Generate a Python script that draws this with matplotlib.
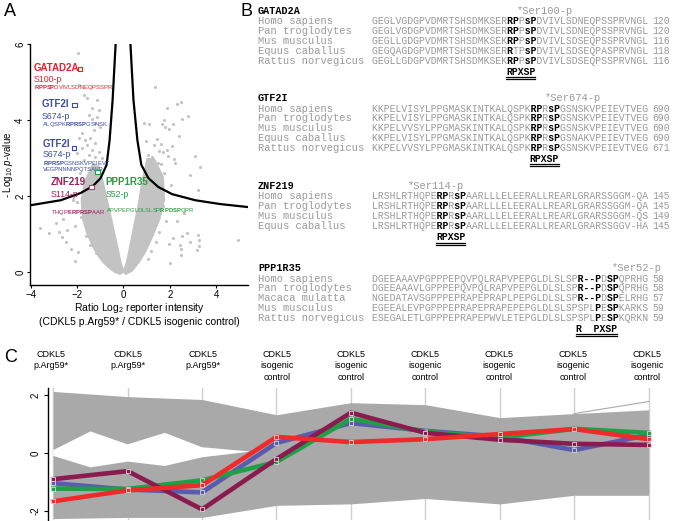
import matplotlib.pyplot as plt
from matplotlib.lines import Line2D
import numpy as np

W, H = 676, 521
plt.rcParams['font.family'] = ['Liberation Sans', 'DejaVu Sans']
plt.rcParams['mathtext.fontset'] = 'custom'
plt.rcParams['mathtext.rm'] = 'Liberation Sans'
plt.rcParams['mathtext.it'] = 'Liberation Sans:italic'
plt.rcParams['mathtext.bf'] = 'Liberation Sans:bold'

# ---------------- panel A data (volcano) ----------------
# highlighted hits
hit_x = [-1.89, -2.11, -2.15, -1.38, -1.12]
hit_y = [5.34, 4.39, 3.26, 2.24, 2.63]
hit_col = ['#e8202a', '#3b4ba8', '#3b4ba8', '#c8306a', '#2a9a40']

# sparse points
pts_x = [-1.97, -1.94, -1.72, -1.58, -1.15, -1.36, -1.08, -1.5, -1.15, -1.36, -1.22, -1.0,
         -1.29, -1.79, -1.94, -1.65, -1.43, -1.22, -1.58, -1.79, -1.36, -1.08, -2.01, -1.5,
         -1.22, -0.93, -1.72,
         -3.6, -3.23, -2.8, -2.65, -2.44, -2.28, -1.97, -2.5, -2.9, -2.6, -2.35, -2.1,
         -2.0, -1.85, -2.1, -1.6, -1.45, -1.2, -0.9, -1.75, -2.2, -1.9,
         1.36, 1.9, 2.32, 2.48, 2.51, 2.8, 0.89, 1.12, 1.76, 1.65, 1.79, 1.96, 2.16, 2.42,
         0.96, 1.43, 1.32, 1.62, 2.08, 1.89, 1.53, 1.69, 3.08, 1.05, 1.22, 1.91, 2.19, 1.51,
         2.22,
         3.28, 4.96, 2.74, 2.45, 3.17, 1.95, 3.23, 3.27, 2.51, 2.47, 2.48, 2.0, 2.15, 2.87,
         3.2, 2.87, 3.3, 2.3, 2.6,
         1.7, 1.85, 1.55, 1.4, 1.2, 1.05, 2.05, 1.75, 1.6]
pts_y = [5.76, 4.92, 4.66, 4.57, 4.53, 4.31, 4.26, 4.13, 4.09, 4.02, 3.91, 3.82,
         3.75, 3.65, 3.52, 3.47, 3.52, 3.39, 3.34, 3.26, 3.21, 3.17, 3.12, 3.08,
         3.03, 2.99, 2.95,
         1.15, 1.02, 1.06, 0.93, 1.1, 0.62, 0.53, 0.8, 1.3, 1.4, 1.6, 0.3,
         1.85, 1.45, 1.2, 0.95, 0.7, 0.5, 0.3, 2.1, 1.9, 2.6,
         4.86, 4.32, 4.41, 4.47, 4.02, 4.10, 3.93, 3.89, 3.99, 3.89, 3.82, 3.76, 3.89, 3.59,
         3.46, 3.51, 3.35, 3.37, 3.32, 3.21, 3.19, 3.16, 3.06, 3.08, 3.02, 3.06, 2.97, 2.86,
         2.86,
         0.84, 0.84, 1.02, 0.71, 0.58, 0.75, 0.97, 0.68, 0.96, 0.62, 0.45, 0.23, 0.89, 0.8,
         2.16, 2.55, 2.77, 1.35, 1.55,
         1.75, 1.35, 1.05, 0.8, 0.55, 0.35, 2.3, 2.6, 2.85]

# outline of the dense cloud (left and right wings)
left_cloud_x = [0.05, -0.08, -0.2, -0.35, -0.45, -0.6, -0.75, -0.9, -1.05,
                -1.35, -1.7, -1.85, -1.8, -1.6, -1.35, -1.05, -0.75, -0.45, -0.15]
left_cloud_y = [0.0, 0.25, 0.6, 1.0, 1.3, 1.7, 2.1, 2.5, 2.8,
                2.85, 2.4, 1.9, 1.4, 1.0, 0.65, 0.35, 0.15, 0.0, -0.08]
right_cloud_x = [-0.05, 0.1, 0.22, 0.35, 0.48, 0.62, 0.72, 0.85, 1.0,
                 1.35, 1.75, 1.8, 1.6, 1.3, 1.0, 0.7, 0.4, 0.1]
right_cloud_y = [0.0, 0.25, 0.6, 1.0, 1.4, 1.8, 2.2, 2.6, 3.0,
                 3.0, 2.5, 1.9, 1.4, 0.95, 0.55, 0.25, 0.02, -0.08]

# significance threshold curves
thr_left_x = [-0.34, -0.47, -0.6, -0.73, -0.99, -1.33, -1.85, -2.71, -4.0]
thr_left_y = [6.0, 4.53, 3.47, 2.82, 2.47, 2.26, 2.08, 1.89, 1.76]
thr_right_x = [0.3, 0.43, 0.6, 0.77, 1.08, 1.5, 2.1, 3.1, 4.17, 5.38]
thr_right_y = [6.0, 4.53, 3.47, 2.82, 2.47, 2.24, 2.05, 1.89, 1.79, 1.71]

# ---------------- panel B data (alignments) ----------------
blocks = [
    ('GATAD2A', '*Ser100-p', 517,
     ['Homo sapiens', 'Pan troglodytes', 'Mus musculus', 'Equus caballus', 'Rattus norvegicus'],
     ['GEGLVGDGPVDMRTSHSDMKSER{RP}P{sP}DVIVLSDNEQPSSPRVNGL',
      'GEGLVGDGPVDMRTSHSDMKSER{RP}P{sP}DVIVLSDNEQPSSPRVNGL',
      'GEGLLGDGPVDMRTSHSDMKSEK{RP}P{sP}DVIVLSDSEQPSSPRVNGL',
      'GEGQAGDGPVDMRTSHSDMKSER{R}TP{sP}DVIVLSDSEQPASPRVNGL',
      'GEGLLGDGPVDMRTSHSDMKSEK{RP}P{sP}DVIVLSDSEQPSSPRVNGL'],
     ['120', '120', '116', '118', '116'], 'RPXSP', 23),
    ('GTF2I', '*Ser674-p', 545,
     ['Homo sapiens', 'Pan troglodytes', 'Mus musculus', 'Equus caballus', 'Rattus norvegicus'],
     ['KKPELVISYLPPGMASKINTKALQSPK{RP}R{sP}GSNSKVPEIEVTVEG',
      'KKPELVISYLPPGMASKINTKALQSPK{RP}R{sP}GSNSKVPEIEVTVEG',
      'KKPELVVSYLPPGMASKINTKALQSPK{RP}R{sP}GSNSKVPEIEVTVEG',
      'KKPELVISYLPPGMASKINTKALQSPK{RP}R{sP}GSNAKVPEIEVTVEG',
      'KKPELVVSYLPPGMASKINTKALQSPK{RP}R{sP}GSNSKVPEIEVTVEG'],
     ['690', '690', '690', '690', '671'], 'RPXSP', 27),
    ('ZNF219', '*Ser114-p', 408,
     ['Homo sapiens', 'Pan troglodytes', 'Mus musculus', 'Equus caballus'],
     ['LRSHLRTHQPE{RP}R{sP}AARLLLELEERALLREARLGRARSSGGM-QA',
      'LRSHLRTHQPE{RP}R{sP}AARLLLELEERALLREARLGRARSSGGM-QA',
      'LRSHLRTHQPE{RP}R{sP}AARLLLELEERALLREARLGRARSSGGM-QS',
      'LRSHLRTHQPE{RP}R{sP}AARLLLELEERALLREARLGRARSSGGV-HA'],
     ['145', '145', '149', '145'], 'RPXSP', 11),
    ('PPP1R35', '*Ser52-p', 612,
     ['Homo sapiens', 'Pan troglodytes', 'Macaca mulatta', 'Mus musculus', 'Rattus norvegicus'],
     ['DGEEAAAVPGPPPEPQVPQLRAPVPEPGLDLSLSP{R--P}D{SP}QPRHG',
      'DGEEAAAVLGPPPEPQVPQLRAPVPEPGLDLSLSP{R--P}D{SP}QPRHG',
      'NGEDATAVSGPPPEPRAPEPRAPLPEPGLDLSLSP{R--P}D{SP}ELRHG',
      'EGEEALEVPGPPPEPRAPEPRAPEPEPGLDLSLSPSPL{P}E{SP}KARKS',
      'ESEGALETLGPPPEPRAPEPWVLETEPGLDLSLSPSPL{P}E{SP}KQRKN'],
     ['58', '58', '57', '59', '59'], 'R  PXSP', 35),
]
block_top = [11, 98, 186, 268]

# ---------------- panel C data (profiles) ----------------
conditions = ['CDKL5\np.Arg59*'] * 3 + ['CDKL5\nisogenic\ncontrol'] * 6
prof_purple = [-0.91, -0.63, -1.96, -0.21, 1.40, 0.70, 0.46, 0.32, 0.28]
prof_blue = [-1.05, -1.27, -1.37, 0.35, 1.04, 0.77, 0.57, 0.10, 0.63]
prof_green = [-1.24, -1.25, -0.95, -0.31, 1.19, 0.74, 0.53, 0.84, 0.70]
prof_red = [-1.68, -1.30, -1.12, 0.56, 0.38, 0.48, 0.66, 0.83, 0.48]
env_top = [2.14, 1.96, 1.86, 1.33, 1.75, 1.68, 1.23, 1.37, 1.50]
env_bot = [-2.28, -2.24, -2.24, -1.82, -1.77, -1.58, -1.77, -1.47, -1.47]
gap_x = [0, 0.5, 1, 1.5, 2, 2.65, 2, 1.5, 1, 0.5, 0]
gap_y = [0.1, 0.75, 0.3, 0.7, 0.2, 0.05, -0.15, -0.45, -0.3, -0.5, -0.1]
outlier_x = [7, 8]
outlier_y = [1.37, 1.79]


def fx(px):
    return px / W


def fy(py):
    return 1 - py / H


fig = plt.figure(figsize=(W / 100, H / 100), dpi=100)

# panel letters
fig.text(fx(4), fy(12), 'A', fontsize=13, va='center')
fig.text(fx(240), fy(11), 'B', fontsize=13, va='center')
fig.text(fx(4), fy(357), 'C', fontsize=13, va='center')

# ======== A ========
axA = fig.add_axes([fx(30), fy(285), fx(248) - fx(30), fy(44) - fy(285)])
grey = '#c3c3c3'
axA.fill(left_cloud_x, left_cloud_y, color=grey, lw=0)
axA.fill(right_cloud_x, right_cloud_y, color=grey, lw=0)
axA.scatter(pts_x, pts_y, s=5, color=grey, lw=0)
axA.plot(thr_left_x, thr_left_y, color='black', lw=1.6)
axA.plot(thr_right_x, thr_right_y, color='black', lw=1.6)
axA.scatter(hit_x, hit_y, s=10, marker='s', facecolor='white', edgecolor=hit_col, lw=0.8, zorder=5)
axA.set_xlim(-4.04, 5.38)
axA.set_ylim(-0.34, 6.0)
axA.set_xticks([-4, -2, 0, 2, 4])
axA.set_yticks([0, 2, 4, 6])
axA.set_yticklabels(['0', '2', '4', '6'], rotation=90, va='center')
axA.tick_params(labelsize=7, length=2.5, width=0.8, pad=1)
for s in ['top', 'right']:
    axA.spines[s].set_visible(False)
for s in ['left', 'bottom']:
    axA.spines[s].set_linewidth(1.0)
axA.set_xlabel('Ratio Log$_2$ reporter intensity\n(CDKL5 p.Arg59* / CDKL5 isogenic control)',
               fontsize=7.5, labelpad=1, linespacing=1.2)
axA.set_ylabel('- Log$_{10}$ $p$-value', fontsize=7)
axA.yaxis.set_label_coords((15 - 30) / 218, 0.5)

red, blue, purp, green = '#e8202a', '#3b4ba8', '#a0205a', '#2a9a40'
axA.text(-3.87, 5.36, 'GATAD2A', color=red, fontsize=7, fontweight='bold', va='center')
axA.text(-3.87, 5.07, 'S100-p', color=red, fontsize=6.3, va='center')
axA.text(-3.87, 4.85, r'$\mathbf{RPPSP}$DVIVLSDNEQPSSPR', color=red, fontsize=4.2, va='center')
axA.text(-3.53, 4.41, 'GTF2I', color=blue, fontsize=7, fontweight='bold', va='center')
axA.text(-3.53, 4.1, 'S674-p', color=blue, fontsize=6.3, va='center')
axA.text(-3.53, 3.88, r'ALQSPK$\mathbf{RPRSP}$GSNSK', color=blue, fontsize=4.2, va='center')
axA.text(-3.48, 3.36, 'GTF2I', color=blue, fontsize=7, fontweight='bold', va='center')
axA.text(-3.48, 3.08, 'S674-p', color=blue, fontsize=6.3, va='center')
axA.text(-3.48, 2.88, r'$\mathbf{RPRSP}$GSNSKVPEIEVT', color=blue, fontsize=4.2, va='center')
axA.text(-3.48, 2.71, 'VEGPNNNNPQTSAVR', color=blue, fontsize=4.2, va='center')
axA.text(-3.14, 2.36, 'ZNF219', color=purp, fontsize=7, fontweight='bold', va='center')
axA.text(-3.14, 2.04, 'S114-p', color=purp, fontsize=6.3, va='center')
axA.text(-3.14, 1.58, r'THQPE$\mathbf{RPRSP}$AAR', color=purp, fontsize=4.2, va='center')
axA.text(-0.77, 2.36, 'PPP1R35', color=green, fontsize=7, fontweight='bold', va='center')
axA.text(-0.77, 2.04, 'S52-p', color=green, fontsize=6.3, va='center')
axA.text(-0.77, 1.63, r'APVPEPGLDLSLSP$\mathbf{RPDSP}$QPR', color=green, fontsize=4.2, va='center')

# ======== B ========
mono = 'Liberation Mono'
cw = 0.6 * 7 / 72 * 100   # char width in px at 7pt
name_x, seq_x = 258, 372
gcol = '#999999'


def split_bold(s):
    plain, bold, inb = [], [], False
    for ch in s:
        if ch == '{':
            inb = True
            continue
        if ch == '}':
            inb = False
            continue
        plain.append(' ' if inb else ch)
        bold.append(ch if inb else ' ')
    return ''.join(plain), ''.join(bold)


for (gene, site, site_x, species, seqs, nums, motif, mpos), top in zip(blocks, block_top):
    fig.text(fx(name_x), fy(top), gene, family=mono, fontweight='bold', fontsize=7.3, va='center')
    fig.text(fx(site_x), fy(top), site, family=mono, fontsize=7.5, color=gcol, va='center')
    y = top
    for i, (sp, sq, n) in enumerate(zip(species, seqs, nums)):
        y = top + 10.5 + i * 9.85
        fig.text(fx(name_x), fy(y), sp, family=mono, fontsize=7.5, color=gcol, va='center')
        plain, bold = split_bold(sq)
        fig.text(fx(seq_x), fy(y), plain, family=mono, fontsize=7, color=gcol, va='center')
        fig.text(fx(seq_x), fy(y), bold, family=mono, fontsize=7, fontweight='bold',
                 color='black', va='center')
        fig.text(fx(seq_x + 48 * cw), fy(y), n, family=mono, fontsize=7, color=gcol, va='center')
    ym = y + 11
    mx = seq_x + mpos * cw
    fig.text(fx(mx), fy(ym), motif, family=mono, fontsize=7, fontweight='bold', va='center')
    for dy in (5.5, 7.5):
        fig.add_artist(Line2D([fx(mx), fx(mx + len(motif) * cw)], [fy(ym + dy)] * 2,
                              color='black', lw=0.9))

# ======== C ========
axC = fig.add_axes([fx(48), fy(520), fx(662) - fx(48), fy(388) - fy(520)])
cols = np.arange(len(conditions))
for c in cols:
    axC.axvline(c, color='#cfcfcf', lw=1, zorder=0)
axC.fill_between(cols, env_bot, env_top, color='#a9a9a9', lw=0, zorder=1)
axC.fill(gap_x, gap_y, color='white', lw=0, zorder=2)
axC.plot(outlier_x, outlier_y, color='#a9a9a9', lw=0.8, zorder=2)
for prof, col in [(prof_blue, '#5a5aae'), (prof_green, '#1fa046'),
                  (prof_purple, '#8b1a4e'), (prof_red, '#ee2a2a')]:
    axC.plot(cols, prof, color=col, lw=3.3, solid_joinstyle='miter', zorder=3,
             marker='s', ms=2.5, mfc='none', mec='#d8d8d8', mew=0.6)
axC.set_xlim(-0.07, 8.18)
axC.set_ylim(-2.33, 2.26)
axC.set_xticks([])
axC.set_yticks([-2, 0, 2])
axC.set_yticklabels(['-2', '0', '2'], rotation=90, va='center')
axC.tick_params(labelsize=7, length=3, width=0.8, pad=2)
for s in ['top', 'right', 'bottom']:
    axC.spines[s].set_visible(False)
axC.spines['left'].set_linewidth(1.0)
col_px = [51, 128, 203, 277, 351, 425, 499, 573, 647]
for c, lab in zip(col_px, conditions):
    fig.text(fx(c), fy(350), lab, ha='center', va='top', fontsize=6.5, linespacing=1.35)

fig.savefig('out.png', dpi=100)
